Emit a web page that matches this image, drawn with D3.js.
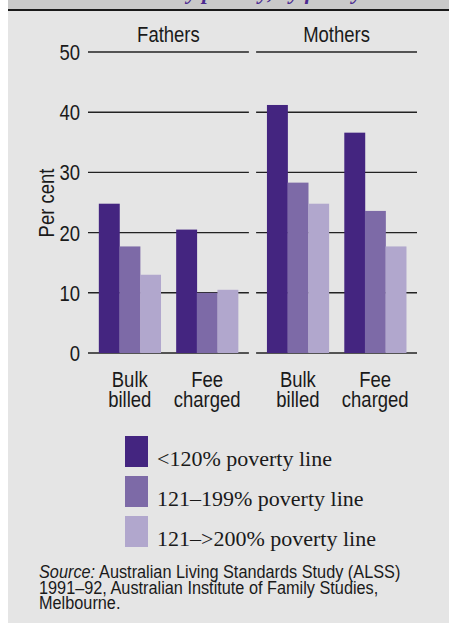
<!DOCTYPE html>
<html>
<head>
<meta charset="utf-8">
<script src="https://cdn.jsdelivr.net/npm/d3@7"></script>
<style>
  html, body { margin: 0; padding: 0; background: #fff; }
  svg { display: block; }
  .sans { font-family: "Liberation Sans", Arial, sans-serif; }
  .serif { font-family: "Liberation Serif", "DejaVu Serif", serif; }
</style>
</head>
<body>
<svg id="chart"></svg>
<script>
const width = 449;
const height = 623;

// data
const panels = ["Fathers", "Mothers"];
const categories = ["Bulk billed", "Fee charged"];
const series = ["<120% poverty line", "121\u2013199% poverty line", "121\u2013>200% poverty line"];
const fathersValues = [
  [24.8, 17.7, 13.0],   // bulk billed
  [20.5, 10.0, 10.5]    // fee charged
];
const mothersValues = [
  [41.2, 28.3, 24.8],
  [36.6, 23.6, 17.7]
];
const yTicks = [0, 10, 20, 30, 40, 50];
const colors = ["#442580", "#7d6aa7", "#b1a7cd"];

const svg = d3.select("#chart")
  .attr("width", width)
  .attr("height", height);

// no narrow font installed: squeeze Liberation Sans horizontally
function narrow(sel, f = 0.84) {
  sel.each(function () {
    const len = this.getComputedTextLength();
    d3.select(this)
      .attr("textLength", len * f)
      .attr("lengthAdjust", "spacingAndGlyphs");
  });
  return sel;
}

/* ---------------------------
Frame
--------------------------- */

svg.append("rect")
  .attr("x", 8).attr("y", 0)
  .attr("width", width - 8).attr("height", height)
  .attr("fill", "#e5e5e5");

svg.append("rect")
  .attr("x", 8).attr("y", 0)
  .attr("width", width - 8).attr("height", 9)
  .attr("fill", "#c9c9c9");

// bottom of the title from the block above, cut off
svg.append("clipPath").attr("id", "topclip")
  .append("rect").attr("x", 8).attr("y", 0).attr("width", width - 8).attr("height", 9);

svg.append("text")
  .attr("clip-path", "url(#topclip)")
  .attr("class", "serif")
  .attr("x", 176).attr("y", -1.5)
  .attr("font-size", 22)
  .attr("font-style", "italic")
  .attr("font-weight", "bold")
  .attr("fill", "#4b2a90")
  .text("by poverty, by family");

svg.append("line")
  .attr("x1", 8).attr("x2", width)
  .attr("y1", 10).attr("y2", 10)
  .attr("stroke", "#1a1a1a")
  .attr("stroke-width", 2);

/* ---------------------------
Scales
--------------------------- */

const y = d3.scaleLinear().domain([0, 50]).range([353, 52]);

const xPanel = d3.scaleBand()
  .domain(panels)
  .range([88, 417])
  .paddingInner(0.043);

const xCat = d3.scaleBand()
  .domain(categories)
  .range([0, xPanel.bandwidth()])
  .paddingInner(0.2)
  .paddingOuter(0.14);

const xSeries = d3.scaleBand()
  .domain(d3.range(series.length))
  .range([0, xCat.bandwidth()]);

/* ---------------------------
Gridlines + y axis
--------------------------- */

panels.forEach(p => {
  svg.append("g")
    .selectAll("line")
    .data(yTicks)
    .enter()
    .append("line")
    .attr("x1", xPanel(p))
    .attr("x2", xPanel(p) + xPanel.bandwidth())
    .attr("y1", d => y(d))
    .attr("y2", d => y(d))
    .attr("stroke", "#222")
    .attr("stroke-width", 1.4);
});

narrow(svg.append("g")
  .selectAll("text")
  .data(yTicks)
  .enter()
  .append("text")
  .attr("class", "sans")
  .attr("x", 80)
  .attr("y", d => y(d) + 8)
  .attr("text-anchor", "end")
  .attr("font-size", 22)
  .attr("fill", "#1a1a1a")
  .text(d => d));

narrow(svg.append("text")
  .attr("class", "sans")
  .attr("transform", "translate(54,203) rotate(-90)")
  .attr("text-anchor", "middle")
  .attr("font-size", 22)
  .attr("fill", "#1a1a1a")
  .text("Per cent"));

/* ---------------------------
Bars
--------------------------- */

const panelData = { Fathers: fathersValues, Mothers: mothersValues };

panels.forEach(p => {
  const g = svg.append("g").attr("transform", `translate(${xPanel(p)},0)`);

  categories.forEach((c, ci) => {
    g.append("g")
      .attr("transform", `translate(${xCat(c)},0)`)
      .selectAll("rect")
      .data(panelData[p][ci])
      .enter()
      .append("rect")
      .attr("x", (d, i) => xSeries(i))
      .attr("y", d => y(d))
      .attr("width", xSeries.bandwidth() + 0.3)
      .attr("height", d => y(0) - y(d))
      .attr("fill", (d, i) => colors[i]);

    narrow(g.selectAll(null)
      .data(c.split(" "))
      .enter()
      .append("text")
      .attr("class", "sans")
      .attr("x", xCat(c) + xCat.bandwidth() / 2)
      .attr("y", (w, wi) => 387 + wi * 19.5)
      .attr("text-anchor", "middle")
      .attr("font-size", 22)
      .attr("fill", "#1a1a1a")
      .text(w => w));
  });

  narrow(svg.append("text")
    .attr("class", "sans")
    .attr("x", xPanel(p) + xPanel.bandwidth() / 2)
    .attr("y", 42)
    .attr("text-anchor", "middle")
    .attr("font-size", 22)
    .attr("fill", "#1a1a1a")
    .text(p));
});

/* ---------------------------
Legend
--------------------------- */

const legend = svg.append("g")
  .selectAll("g")
  .data(series)
  .enter()
  .append("g")
  .attr("transform", (d, i) => `translate(125,${436 + i * 40})`);

legend.append("rect")
  .attr("width", 23)
  .attr("height", 31)
  .attr("fill", (d, i) => colors[i]);

legend.append("text")
  .attr("class", "serif")
  .attr("x", 32)
  .attr("y", 30)
  .attr("font-size", 22)
  .attr("fill", "#1a1a1a")
  .text(d => d);

/* ---------------------------
Source note
--------------------------- */

const sourceLines = [
  "Australian Living Standards Study (ALSS)",
  "1991\u201392, Australian Institute of Family Studies,",
  "Melbourne."
];

const srcLabel = narrow(svg.append("text")
  .attr("class", "sans")
  .attr("x", 39)
  .attr("y", 578)
  .attr("font-size", 17.5)
  .attr("font-style", "italic")
  .attr("fill", "#1a1a1a")
  .text("Source:"), 0.93);

const labelW = +srcLabel.attr("textLength");

sourceLines.forEach((line, i) => {
  narrow(svg.append("text")
    .attr("class", "sans")
    .attr("x", i === 0 ? 39 + labelW + 4 : 39)
    .attr("y", 578 + i * 15.5)
    .attr("font-size", 17.5)
    .attr("fill", "#1a1a1a")
    .text(line), 0.93);
});
</script>
</body>
</html>
